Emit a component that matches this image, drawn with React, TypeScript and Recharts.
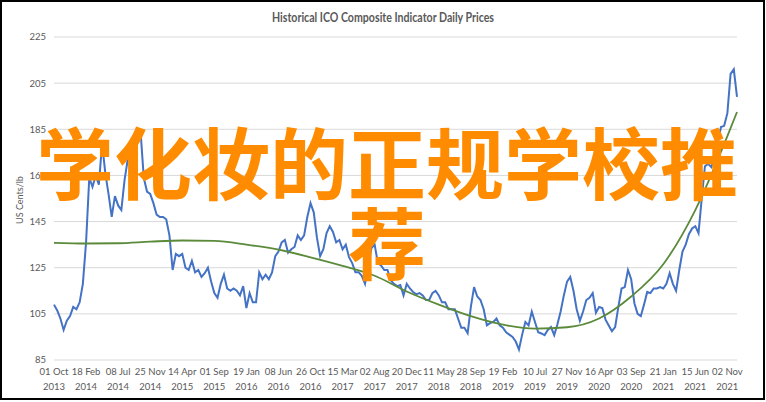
import React from "react";
import { CartesianGrid, Line, LineChart, XAxis, YAxis } from "recharts";

// x axis labels, one every 10 samples (a sample = 10 trading days)
const tickLabels = [
  "01 Oct 2013", "18 Feb 2014", "08 Jul 2014", "25 Nov 2014", "14 Apr 2015",
  "01 Sep 2015", "19 Jan 2016", "08 Jun 2016", "26 Oct 2016", "15 Mar 2017",
  "02 Aug 2017", "20 Dec 2017", "11 May 2018", "28 Sep 2018", "19 Feb 2019",
  "10 Jul 2019", "27 Nov 2019", "16 Apr 2020", "03 Sep 2020", "21 Jan 2021",
  "15 Jun 2021", "02 Nov 2021",
];

const yTicks = [85, 105, 125, 145, 165, 185, 205, 225];

// ICO composite price, US cents/lb
const prices = [
  109, 106.5, 103, 98, 102, 104, 108, 107, 110, 118,
  136, 164, 160, 165, 161, 179, 166, 157, 147, 156,
  152, 150, 163, 172, 179, 179, 185, 184, 164, 158,
  157, 153, 148, 147, 147, 146, 139, 124, 131, 130,
  131, 125, 124, 128, 123, 124, 121, 122.6, 125, 119,
  114, 112, 118, 122, 116, 115, 116, 115, 113, 117,
  107.5, 114, 110, 110, 123, 120, 122, 120, 123, 130,
  132, 136, 137, 131.5, 133, 134, 139, 137, 139, 147,
  153, 149, 138, 130, 133, 140, 143, 140.5, 136, 137,
  133, 135, 129.6, 127, 123, 123, 121.5, 118, 126, 133.5,
  135, 127, 126, 124, 124, 119.6, 118, 117, 117.5, 113,
  118, 116, 114.5, 113.5, 114, 113, 111, 111, 114, 115,
  113, 110, 110, 107, 107, 107, 103, 99, 99, 96.6,
  108, 116.6, 112.5, 111, 107, 100, 101, 101.5, 103, 100,
  99, 97, 96, 95, 93, 89.5, 96, 101.5, 100, 106,
  101.5, 97, 96.5, 95.8, 98, 99.3, 95.8, 100.5, 106, 113,
  119, 121, 115, 107, 102, 106, 111, 112, 114, 105.5,
  108, 107.5, 102.5, 100, 97.5, 99.3, 108, 116, 116.6, 124,
  120, 109.6, 105, 104, 109, 114.5, 114, 116, 116, 116.6,
  116, 118, 122.6, 118, 115, 124, 132, 135, 139.5, 142,
  143, 140, 155, 169, 170, 168.6, 173, 179, 186, 186.5,
  192, 209, 211, 199,
];

// polynomial trend line, read at a few samples
const trendAt = [0, 10, 20, 30, 40, 50, 60, 70, 80, 90, 100, 110, 120, 130, 140, 150, 160, 170, 180, 190, 200, 210, 213];
const trendValues = [
  135.8, 135.5, 135.6, 136.3, 136.8, 136.6, 135.0, 132.8, 129.5, 125.8,
  121.5, 114.7, 109, 104, 100.3, 98.6, 99.2, 103, 112.5, 126.5,
  150, 182, 192.5,
];

const data = prices.map((price, i) => {
  const t = trendAt.indexOf(i);
  return { i, price, trend: t >= 0 ? trendValues[t] : null };
});

const xTicks = tickLabels.map((_, n) => n * 10);

const font = "Lato, 'DejaVu Sans', sans-serif";
const grey = "#595959";

const DateTick = (props: any) => {
  const { x, y, payload } = props;
  const label = tickLabels[Math.round(payload.value / 10)] || "";
  const cut = label.lastIndexOf(" ");
  return (
    <text x={x} y={y} textAnchor="middle" fill={grey} fontSize={9.5} fontFamily={font}>
      <tspan x={x} y={y + 14.5}>{label.slice(0, cut)}</tspan>
      <tspan x={x} y={y + 30}>{label.slice(cut + 1)}</tspan>
    </text>
  );
};

export default function App() {
  return (
    <div style={{ position: "absolute", left: 0, top: 0, width: 766, height: 402, background: "#fff" }}>
      <LineChart
        width={766}
        height={402}
        data={data}
        margin={{ top: 37, right: 29, bottom: 2, left: 0 }}
      >
        <CartesianGrid vertical={false} stroke="#d9d9d9" />
        <XAxis
          dataKey="i"
          type="number"
          domain={[0, 213]}
          ticks={xTicks}
          interval={0}
          height={40}
          tick={<DateTick />}
          tickLine={false}
          axisLine={false}
          tickSize={0}
          tickMargin={0}
        />
        <YAxis
          type="number"
          domain={[85, 225]}
          ticks={yTicks}
          width={54}
          tickLine={false}
          axisLine={false}
          tick={{ fill: grey, fontSize: 9.5, fontFamily: font }}
        />
        <Line
          dataKey="price"
          stroke="#4472C4"
          strokeWidth={2}
          dot={false}
          isAnimationActive={false}
        />
        <Line
          dataKey="trend"
          type="monotone"
          stroke="#5a8a3a"
          strokeWidth={1.8}
          dot={false}
          connectNulls
          isAnimationActive={false}
        />
      </LineChart>
      <svg width={766} height={402} style={{ position: "absolute", left: 0, top: 0, pointerEvents: "none" }}>
        <text
          x={383}
          y={22}
          textAnchor="middle"
          fill={grey}
          fontSize={12.5}
          fontWeight="bold"
          fontFamily={font}
          textLength={222}
          lengthAdjust="spacingAndGlyphs"
        >
          Historical ICO Composite Indicator Daily Prices
        </text>
        <text
          x={23}
          y={200}
          textAnchor="middle"
          fill={grey}
          fontSize={9}
          fontFamily={font}
          transform="rotate(-90 23 200)"
        >
          US Cents/lb
        </text>
      </svg>
      <div
        style={{
          position: "absolute",
          left: 36,
          top: 120,
          width: 702,
          textAlign: "center",
          fontSize: 78,
          lineHeight: "80px",
          fontWeight: "bold",
          color: "#FF8C00",
          fontFamily: "'Noto Sans CJK SC', sans-serif",
        }}
      >
        学化妆的正规学校推荐
      </div>
      <div
        style={{
          position: "absolute",
          left: 0,
          top: 0,
          width: 765,
          height: 400,
          border: "2px solid #000",
          boxSizing: "border-box",
          pointerEvents: "none",
        }}
      />
    </div>
  );
}
